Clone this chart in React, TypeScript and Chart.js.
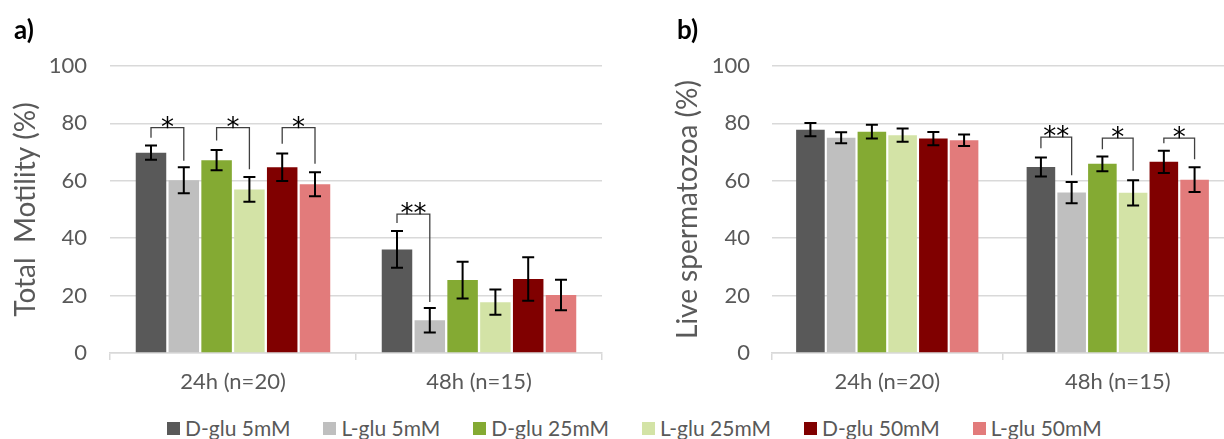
import React, { useEffect, useRef } from "react";
import { Chart, registerables } from "chart.js";

Chart.register(...registerables);

const FONT = "Lato, 'Open Sans', sans-serif";
const STAR_FONT = "'DejaVu Sans', sans-serif";
const TEXT = "#595959";
const GRID = "#d9d9d9";

const categories = ["24h (n=20)", "48h (n=15)"];
const seriesNames = ["D-glu 5mM", "L-glu 5mM", "D-glu 25mM", "L-glu 25mM", "D-glu 50mM", "L-glu 50mM"];
const seriesColors = ["#595959", "#bfbfbf", "#84aa33", "#d3e3a6", "#800000", "#e27b7b"];
const yTicks = [0, 20, 40, 60, 80, 100];

// Total motility (%) — mean per series, [24h, 48h]
const motilityMean = [
  [69.8, 36.1],
  [60.2, 11.4],
  [67.2, 25.4],
  [57.0, 17.7],
  [64.7, 25.8],
  [58.8, 20.2],
];
const motilityErr = [
  [2.5, 6.4],
  [4.5, 4.3],
  [3.5, 6.4],
  [4.3, 4.4],
  [4.8, 7.6],
  [4.2, 5.3],
];
// [category, series A, series B, bracket top, leg A end, leg B end, label]
const motilitySig = [
  [0, 0, 1, 78.5, 75.0, 67.0, "*"],
  [0, 2, 3, 78.5, 74.0, 64.0, "*"],
  [0, 4, 5, 78.5, 72.9, 65.9, "*"],
  [1, 0, 1, 48.4, 45.3, 17.8, "**"],
];

// Live spermatozoa (%)
const viabilityMean = [
  [77.8, 64.8],
  [75.0, 55.9],
  [77.1, 65.9],
  [75.9, 55.8],
  [74.7, 66.6],
  [74.1, 60.4],
];
const viabilityErr = [
  [2.3, 3.3],
  [1.9, 3.7],
  [2.4, 2.6],
  [2.3, 4.4],
  [2.3, 3.9],
  [2.0, 4.3],
];
const viabilitySig = [
  [1, 0, 1, 75.2, 71.3, 61.9, "**"],
  [1, 2, 3, 74.9, 71.0, 63.5, "*"],
  [1, 4, 5, 74.9, 73.1, 67.5, "*"],
];

type PanelProps = {
  left: number;
  width: number;
  means: number[][];
  errs: number[][];
  sig: any[][];
  title: string;
  titlePad: number;
  yAxisWidth: number;
  rightPad: number;
  tickPad: number;
};

function Panel(p: PanelProps) {
  const ref = useRef<HTMLCanvasElement | null>(null);
  useEffect(() => {
    const canvas = ref.current;
    if (!canvas) return;
    const overlay = {
      id: "errAndSig",
      afterDatasetsDraw(chart: any) {
        const ctx = chart.ctx;
        const ys = chart.scales.y;
        ctx.save();
        // error bars
        ctx.strokeStyle = "#000";
        ctx.lineWidth = 2;
        p.means.forEach((_, di) => {
          const meta = chart.getDatasetMeta(di);
          meta.data.forEach((bar: any, i: number) => {
            const m = p.means[di][i];
            const e = p.errs[di][i];
            const yt = ys.getPixelForValue(m + e);
            const yb = ys.getPixelForValue(m - e);
            const x = bar.x;
            ctx.beginPath();
            ctx.moveTo(x, yt);
            ctx.lineTo(x, yb);
            ctx.moveTo(x - 6, yt);
            ctx.lineTo(x + 6, yt);
            ctx.moveTo(x - 6, yb);
            ctx.lineTo(x + 6, yb);
            ctx.stroke();
          });
        });
        // significance brackets
        p.sig.forEach((s) => {
          const [cat, a, b, top, endA, endB, label] = s;
          const xa = chart.getDatasetMeta(a).data[cat].x;
          const xb = chart.getDatasetMeta(b).data[cat].x;
          const yTop = ys.getPixelForValue(top);
          ctx.strokeStyle = "#404040";
          ctx.lineWidth = 1.3;
          ctx.beginPath();
          ctx.moveTo(xa, ys.getPixelForValue(endA));
          ctx.lineTo(xa, yTop);
          ctx.lineTo(xb, yTop);
          ctx.lineTo(xb, ys.getPixelForValue(endB));
          ctx.stroke();
          ctx.fillStyle = "#000";
          ctx.font = `26px ${STAR_FONT}`;
          ctx.textAlign = "center";
          ctx.textBaseline = "alphabetic";
          ctx.fillText(label, (xa + xb) / 2, yTop + 8);
        });
        ctx.restore();
      },
    };
    const chart = new Chart(canvas, {
      type: "bar",
      data: {
        labels: categories,
        datasets: seriesNames.map((n, i) => ({
          label: n,
          data: p.means[i],
          backgroundColor: seriesColors[i],
          borderWidth: 0,
          barPercentage: 0.93,
          categoryPercentage: 0.8,
        })),
      },
      options: {
        responsive: false,
        animation: false,
        devicePixelRatio: 1,
        layout: { padding: { top: 66, right: p.rightPad, left: 0, bottom: 0 } },
        plugins: { legend: { display: false }, tooltip: { enabled: false } },
        scales: {
          x: {
            grid: { display: true, drawOnChartArea: false, drawTicks: true, tickLength: 7, color: GRID, lineWidth: 1.5, offset: true },
            border: { display: true, color: GRID, width: 1.5 },
            ticks: { color: TEXT, font: { family: FONT, size: 22 }, padding: 9 },
            afterFit: (s: any) => {
              s.height = 47;
            },
          },
          y: {
            min: 0,
            max: 100,
            afterBuildTicks: (s: any) => {
              s.ticks = yTicks.map((v) => ({ value: v }));
            },
            grid: { color: GRID, lineWidth: 1.5, drawTicks: false },
            border: { display: false },
            ticks: { color: TEXT, font: { family: FONT, size: 22 }, padding: p.tickPad },
            title: {
              display: true,
              text: p.title,
              color: TEXT,
              font: { family: FONT, size: 28 },
              padding: { top: p.titlePad, bottom: 0 },
            },
            afterFit: (s: any) => {
              s.width = p.yAxisWidth;
            },
          },
        },
      },
      plugins: [overlay],
    } as any);
    return () => chart.destroy();
  }, []);
  return (
    <canvas
      ref={ref}
      width={p.width}
      height={400}
      style={{ position: "absolute", left: p.left, top: 0, width: p.width, height: 400 }}
    />
  );
}

export default function App() {
  return (
    <div
      style={{
        position: "absolute",
        left: 0,
        top: 0,
        width: 1224,
        height: 439,
        overflow: "hidden",
        background: "#fff",
        fontFamily: FONT,
      }}
    >
      <Panel
        left={0}
        width={612}
        means={motilityMean}
        errs={motilityErr}
        sig={motilitySig}
        title="Total  Motility (%)"
        titlePad={9}
        yAxisWidth={110}
        rightPad={10}
        tickPad={23}
      />
      <Panel
        left={612}
        width={630}
        means={viabilityMean}
        errs={viabilityErr}
        sig={viabilitySig}
        title="Live spermatozoa (%)"
        titlePad={59}
        yAxisWidth={160}
        rightPad={9}
        tickPad={22}
      />
      <div style={{ position: "absolute", left: 14, top: 15, fontSize: 26, fontWeight: 700, lineHeight: "28px", color: "#000" }}>a)</div>
      <div style={{ position: "absolute", left: 677, top: 15, fontSize: 26, fontWeight: 700, lineHeight: "28px", color: "#000" }}>b)</div>
      <div
        style={{
          position: "absolute",
          left: 167,
          top: 415,
          display: "flex",
          alignItems: "center",
          gap: 33,
          color: TEXT,
          fontSize: 21,
          lineHeight: "26px",
          whiteSpace: "nowrap",
        }}
      >
        {seriesNames.map((n, i) => (
          <div key={n} style={{ display: "flex", alignItems: "center" }}>
            <span style={{ display: "inline-block", width: 13, height: 13, background: seriesColors[i], marginRight: 5 }} />
            <span>{n}</span>
          </div>
        ))}
      </div>
    </div>
  );
}
